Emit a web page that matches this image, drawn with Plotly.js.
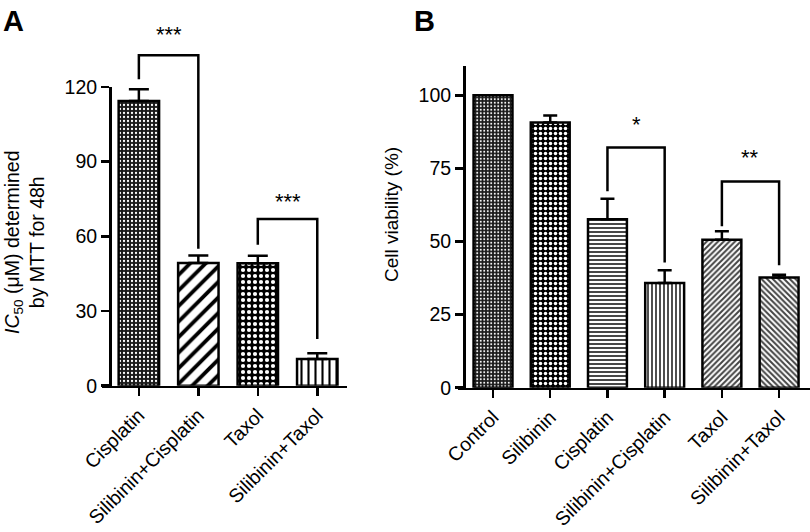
<!DOCTYPE html>
<html>
<head>
<meta charset="utf-8">
<script src="https://cdn.plot.ly/plotly-3.0.1.min.js"></script>
<style>html,body{margin:0;padding:0;background:#fff;}#chart{width:810px;height:532px;}</style>
</head>
<body>
<div id="chart"></div>
<script>
// Panel A data: IC50 (µM) by MTT for 48h
const aCategories = ['Cisplatin', 'Silibinin+Cisplatin', 'Taxol', 'Silibinin+Taxol'];
const aValues = [114.4, 49.3, 49.2, 10.7];
const aErrors = [4.7, 3.0, 3.0, 2.3];
const aTicks = [0, 30, 60, 90, 120];
// brackets: [fromIndex, toIndex, leftEnd, top, rightEnd, label, labelY]
const aBrackets = [
  [0, 1, 123.1, 132.8, 55.0, '***', 142.0],
  [2, 3, 56.6, 67.0, 18.8, '***', 75.0]
];

// Panel B data: cell viability (%)
const bCategories = ['Control', 'Silibinin', 'Cisplatin', 'Silibinin+Cisplatin', 'Taxol', 'Silibinin+Taxol'];
const bValues = [100, 90.7, 57.6, 35.8, 50.6, 37.7];
const bErrors = [0, 2.4, 7.0, 4.4, 2.9, 0.9];
const bTicks = [0, 25, 50, 75, 100];
const bBrackets = [
  [2, 3, 67.2, 82.1, 42.8, '*', 90.7],
  [4, 5, 55.2, 70.5, 41.9, '**', 79.4]
];

const W = 810, H = 532;
const FONT = 'Liberation Sans, Arial, Helvetica, sans-serif';
const px = v => v / W;
const py = v => 1 - v / H;

const aPatterns = [
  {shape: '.', fillmode: 'replace', bgcolor: '#1a1a1a', fgcolor: '#ffffff', size: 4, solidity: 0.25},
  {shape: '/', fillmode: 'replace', bgcolor: '#ffffff', fgcolor: '#000000', size: 11, solidity: 0.35},
  {shape: '.', fillmode: 'replace', bgcolor: '#000000', fgcolor: '#ffffff', size: 6, solidity: 0.38},
  {shape: '|', fillmode: 'replace', bgcolor: '#ffffff', fgcolor: '#000000', size: 7, solidity: 0.3}
];
const bPatterns = [
  {shape: '.', fillmode: 'replace', bgcolor: '#1a1a1a', fgcolor: '#ffffff', size: 3.5, solidity: 0.25},
  {shape: '.', fillmode: 'replace', bgcolor: '#000000', fgcolor: '#ffffff', size: 5, solidity: 0.38},
  {shape: '-', fillmode: 'replace', bgcolor: '#ffffff', fgcolor: '#333333', size: 4, solidity: 0.45},
  {shape: '|', fillmode: 'replace', bgcolor: '#ffffff', fgcolor: '#222222', size: 4, solidity: 0.4},
  {shape: '/', fillmode: 'replace', bgcolor: '#ffffff', fgcolor: '#444444', size: 4, solidity: 0.5},
  {shape: '\\', fillmode: 'replace', bgcolor: '#ffffff', fgcolor: '#444444', size: 4, solidity: 0.5}
];

const traces = [];
const annotations = [];

// brackets drawn on an invisible overlay y axis that shares the same scale but extends higher
function addPanel(cats, vals, errs, patterns, brackets, xa, ya, yb, capW) {
  cats.forEach((c, i) => {
    traces.push({
      type: 'bar', x: [c], y: [vals[i]], xaxis: xa, yaxis: ya,
      width: 0.68, showlegend: false, hoverinfo: 'x+y',
      marker: {color: '#ffffff', line: {color: '#000', width: 2.5}, pattern: patterns[i]},
      error_y: {type: 'data', symmetric: false, array: [errs[i]], arrayminus: [0],
                color: '#000', thickness: 2.5, width: capW, visible: errs[i] > 0}
    });
  });
  brackets.forEach(b => {
    const [f, t, le, top, re, lab, ly] = b;
    traces.push({
      type: 'scatter', mode: 'lines', x: [cats[f], cats[f], cats[t], cats[t]],
      y: [le, top, top, re], xaxis: xa, yaxis: yb, cliponaxis: false,
      line: {color: '#000', width: 2.5}, showlegend: false, hoverinfo: 'skip'
    });
    annotations.push({
      xref: xa, yref: yb, x: (f + t) / 2, y: ly, text: lab, showarrow: false,
      xanchor: 'center', yanchor: 'middle', yshift: -2,
      font: {family: FONT, size: 22, color: '#000'}
    });
  });
}

addPanel(aCategories, aValues, aErrors, aPatterns, aBrackets, 'x', 'y', 'y3', 10);
addPanel(bCategories, bValues, bErrors, bPatterns, bBrackets, 'x2', 'y2', 'y4', 7);

const axFont = {family: FONT, size: 19.5, color: '#000'};
const common = {
  showline: true, linecolor: '#000', linewidth: 2.5, ticks: 'outside',
  ticklen: 8, tickwidth: 2.5, tickcolor: '#000', showgrid: false, zeroline: false,
  tickfont: axFont, fixedrange: true
};
const hidden = {visible: false, showgrid: false, zeroline: false, fixedrange: true};

annotations.push(
  {xref: 'paper', yref: 'paper', x: px(24), y: py(242), textangle: -90,
   text: '<i>IC</i><sub>50</sub> (μM) determined<br>by MTT for 48h', showarrow: false,
   xanchor: 'center', yanchor: 'middle', font: {family: FONT, size: 19.5, color: '#000'}},
  {xref: 'paper', yref: 'paper', x: px(391), y: py(215), textangle: -90,
   text: 'Cell viability (%)', showarrow: false,
   xanchor: 'center', yanchor: 'middle', font: {family: FONT, size: 19, color: '#000'}},
  {xref: 'paper', yref: 'paper', x: px(1), y: py(3), text: '<b>A</b>', showarrow: false,
   xanchor: 'left', yanchor: 'top', font: {family: FONT, size: 29, color: '#000'}},
  {xref: 'paper', yref: 'paper', x: px(412), y: py(3), text: '<b>B</b>', showarrow: false,
   xanchor: 'left', yanchor: 'top', font: {family: FONT, size: 29, color: '#000'}}
);

// scales: A 0 at 385.7px, 120 at 87px; B 0 at 387.7px, 110 at 66px
const aPxPerUnit = (385.7 - 87) / 120;
const bPxPerUnit = (387.7 - 66) / 110;
const aExtMax = 150, bExtMax = 120;

const layout = {
  width: W, height: H, margin: {l: 0, r: 0, t: 0, b: 0},
  paper_bgcolor: '#fff', plot_bgcolor: 'rgba(0,0,0,0)',
  barmode: 'overlay', showlegend: false, font: {family: FONT, color: '#000'},
  xaxis: Object.assign({}, common, {domain: [px(102), px(347)], anchor: 'y', type: 'category',
    categoryorder: 'array', categoryarray: aCategories, range: [-0.62, 3.5], tickangle: -45}),
  yaxis: Object.assign({}, common, {domain: [py(385.7), py(87)], anchor: 'free', position: px(110),
    range: [0, 120], tickvals: aTicks}),
  yaxis3: Object.assign({}, hidden, {domain: [py(385.7), py(385.7 - aExtMax * aPxPerUnit)],
    anchor: 'x', range: [0, aExtMax]}),
  xaxis2: Object.assign({}, common, {domain: [px(458), 1], anchor: 'y2', type: 'category',
    categoryorder: 'array', categoryarray: bCategories, range: [-0.612, 5.54], tickangle: -45}),
  yaxis2: Object.assign({}, common, {domain: [py(387.7), py(66)], anchor: 'free', position: px(464),
    range: [0, 110], tickvals: bTicks}),
  yaxis4: Object.assign({}, hidden, {domain: [py(387.7), py(387.7 - bExtMax * bPxPerUnit)],
    anchor: 'x2', range: [0, bExtMax]}),
  annotations: annotations
};

Plotly.newPlot('chart', traces, layout, {displayModeBar: false, staticPlot: true});
</script>
</body>
</html>
